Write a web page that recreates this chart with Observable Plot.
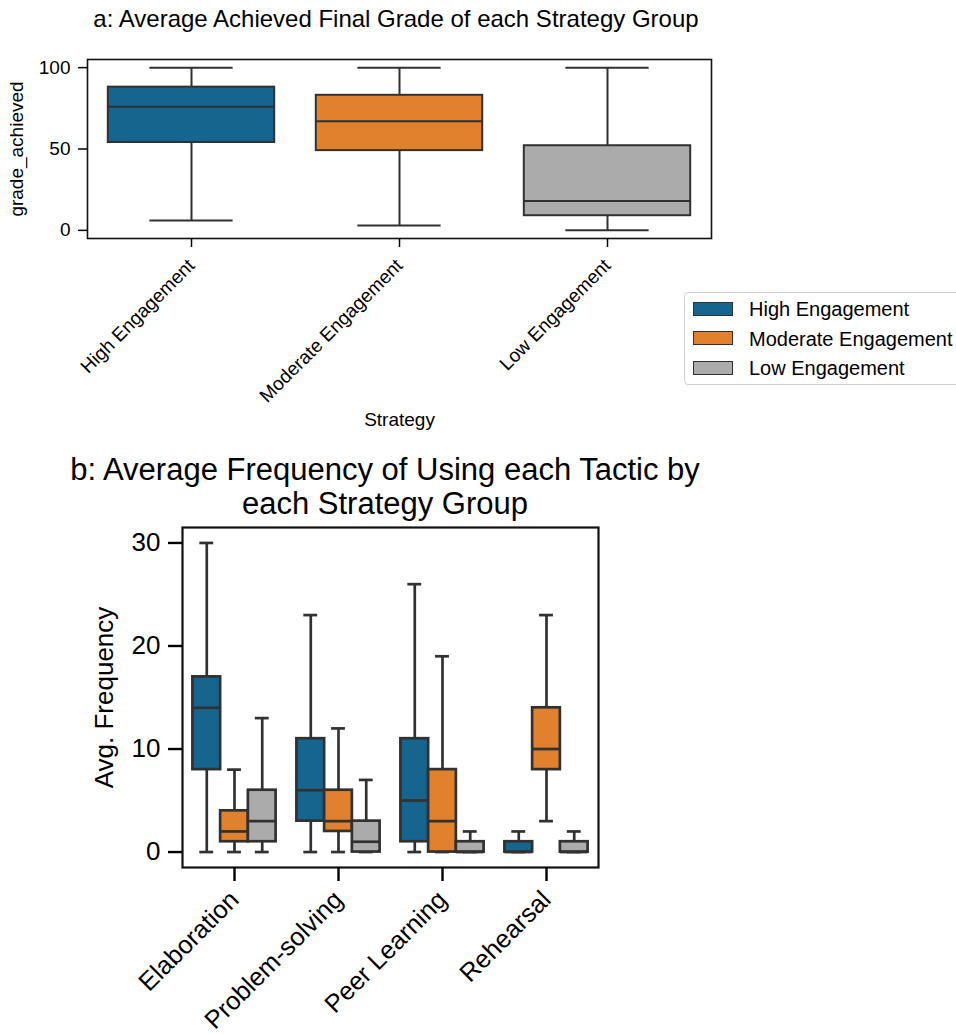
<!DOCTYPE html>
<html><head><meta charset="utf-8">
<script src="https://cdn.jsdelivr.net/npm/d3@7"></script>
<script src="https://cdn.jsdelivr.net/npm/@observablehq/plot@0.6"></script>
<style>
body{margin:0;background:#fff;font-family:"Liberation Sans",Arial,sans-serif;color:#000;}
#wrap{position:relative;width:956px;height:1034px;overflow:hidden;}
.abs{position:absolute;}
#legend{left:684px;top:292px;width:300px;height:93px;border:1px solid #cfcfcf;border-radius:4px;background:#fff;box-sizing:border-box;}
.li{position:absolute;left:8px;height:20px;font-size:20px;line-height:20px;white-space:nowrap;}
.sw{display:inline-block;width:40px;height:14px;border:1.5px solid #313131;box-sizing:border-box;vertical-align:middle;margin-right:16px;position:relative;top:-2px;}
</style></head><body><div id="wrap">
<div class="abs" style="left:0;width:792px;top:5px;text-align:center;font-size:24px;">a: Average Achieved Final Grade of each Strategy Group</div>
<div class="abs" id="chartA" style="left:0;top:40px;"></div>
<div class="abs" id="legend"></div>
<div class="abs" style="left:0;width:770px;top:453px;text-align:center;font-size:31px;line-height:34px;">b: Average Frequency of Using each Tactic by<br>each Strategy Group</div>
<div class="abs" id="chartB" style="left:0;top:520px;"></div>
</div>
<script>
// ---------- data: chart a ----------
const strategies = ["High Engagement", "Moderate Engagement", "Low Engagement"];
const strategyColors = ["#15658f", "#e1812d", "#ababab"];
const gradeMin = [6, 3, 0];
const gradeQ1 = [54, 49, 9];
const gradeMedian = [76, 67, 18];
const gradeQ3 = [88, 83, 52];
const gradeMax = [100, 100, 100];
const gradeTicks = [0, 50, 100];

// ---------- data: chart b ----------
const tactics = ["Elaboration", "Problem-solving", "Peer Learning", "Rehearsal"];
const highMin = [0, 0, 0, 0];
const highQ1 = [8, 3, 1, 0];
const highMedian = [14, 6, 5, 0];
const highQ3 = [17, 11, 11, 1];
const highMax = [30, 23, 26, 2];
const moderateMin = [0, 0, 0, 3];
const moderateQ1 = [1, 2, 0, 8];
const moderateMedian = [2, 3, 3, 10];
const moderateQ3 = [4, 6, 8, 14];
const moderateMax = [8, 12, 19, 23];
const lowMin = [0, 0, 0, 0];
const lowQ1 = [1, 0, 0, 0];
const lowMedian = [3, 1, 0, 0];
const lowQ3 = [6, 3, 1, 1];
const lowMax = [13, 7, 2, 2];
const freqTicks = [0, 10, 20, 30];

const FONT = '"Liberation Sans", Arial, sans-serif';
const edge = "#313131";

// ---------- chart a ----------
const rowsA = strategies.map((s, i) => ({
  strategy: s, min: gradeMin[i], q1: gradeQ1[i], median: gradeMedian[i], q3: gradeQ3[i], max: gradeMax[i]
}));
const widthA = 720, mlA = 87, mrA = 9;
const bandA = (widthA - mlA - mrA) / strategies.length;
const boxInsetA = bandA * 0.1, capInsetA = bandA * 0.3;
const swA = 2;
const chartA = Plot.plot({
  width: widthA, height: 420, marginLeft: mlA, marginRight: mrA, marginTop: 19, marginBottom: 222,
  style: {fontFamily: FONT, fontSize: "19px", color: "#000", background: "transparent", overflow: "visible"},
  x: {domain: strategies, padding: 0},
  y: {domain: [-5, 105]},
  color: {domain: strategies, range: strategyColors},
  marks: [
    Plot.ruleX(rowsA, {x: "strategy", y1: "min", y2: "q1", stroke: edge, strokeWidth: swA}),
    Plot.ruleX(rowsA, {x: "strategy", y1: "q3", y2: "max", stroke: edge, strokeWidth: swA}),
    Plot.tickY(rowsA, {x: "strategy", y: "min", stroke: edge, strokeWidth: swA, inset: capInsetA}),
    Plot.tickY(rowsA, {x: "strategy", y: "max", stroke: edge, strokeWidth: swA, inset: capInsetA}),
    Plot.barY(rowsA, {x: "strategy", y1: "q1", y2: "q3", fill: "strategy", stroke: edge, strokeWidth: swA, insetLeft: boxInsetA, insetRight: boxInsetA}),
    Plot.tickY(rowsA, {x: "strategy", y: "median", stroke: edge, strokeWidth: swA, inset: boxInsetA}),
    Plot.frame({stroke: "#111", strokeWidth: 1.6}),
    Plot.axisY({ticks: gradeTicks, tickSize: 9, tickPadding: 8, strokeWidth: 1.5, label: "grade_achieved", labelAnchor: "center", labelArrow: "none", labelOffset: 78}),
    Plot.axisX({tickRotate: -45, tickSize: 9, tickPadding: 15, strokeWidth: 1.5, label: "Strategy", labelAnchor: "center", labelArrow: "none", labelOffset: 187})
  ]
});
document.getElementById("chartA").appendChild(chartA);

// legend
const legend = document.getElementById("legend");
strategies.forEach((s, i) => {
  const row = document.createElement("div");
  row.className = "li";
  row.style.top = (6 + i * 29.5) + "px";
  const sw = document.createElement("span");
  sw.className = "sw";
  sw.style.background = strategyColors[i];
  row.appendChild(sw);
  row.appendChild(document.createTextNode(s));
  legend.appendChild(row);
});

// ---------- chart b ----------
const groupStats = [
  {min: highMin, q1: highQ1, median: highMedian, q3: highQ3, max: highMax},
  {min: moderateMin, q1: moderateQ1, median: moderateMedian, q3: moderateQ3, max: moderateMax},
  {min: lowMin, q1: lowQ1, median: lowMedian, q3: lowQ3, max: lowMax}
];
const rowsB = [];
strategies.forEach((g, gi) => tactics.forEach((t, ti) => rowsB.push({
  group: g, tactic: t,
  min: groupStats[gi].min[ti], q1: groupStats[gi].q1[ti], median: groupStats[gi].median[ti],
  q3: groupStats[gi].q3[ti], max: groupStats[gi].max[ti]
})));
const widthB = 620, mlB = 182, mrB = 22;
const bandB = (widthB - mlB - mrB) / tactics.length;
const boxW = bandB * 0.8 / strategies.length;
const boxInsetB = (bandB - boxW) / 2, capInsetB = (bandB - boxW * 0.5) / 2;
const swB = 2.7;
const boxMarks = strategies.flatMap((g, gi) => {
  const d = rowsB.filter(r => r.group === g);
  const dx = (gi - 1) * boxW;
  return [
    Plot.ruleX(d, {x: "tactic", y1: "min", y2: "q1", stroke: edge, strokeWidth: swB, dx}),
    Plot.ruleX(d, {x: "tactic", y1: "q3", y2: "max", stroke: edge, strokeWidth: swB, dx}),
    Plot.tickY(d, {x: "tactic", y: "min", stroke: edge, strokeWidth: swB, inset: capInsetB, dx}),
    Plot.tickY(d, {x: "tactic", y: "max", stroke: edge, strokeWidth: swB, inset: capInsetB, dx}),
    Plot.barY(d, {x: "tactic", y1: "q1", y2: "q3", fill: "group", stroke: edge, strokeWidth: swB, insetLeft: boxInsetB, insetRight: boxInsetB, dx}),
    Plot.tickY(d, {x: "tactic", y: "median", stroke: edge, strokeWidth: swB, inset: boxInsetB, dx})
  ];
});
const chartB = Plot.plot({
  width: widthB, height: 514, marginLeft: mlB, marginRight: mrB, marginTop: 7, marginBottom: 167,
  style: {fontFamily: FONT, fontSize: "25px", color: "#000", background: "transparent", overflow: "visible"},
  x: {domain: tactics, padding: 0},
  y: {domain: [-1.5, 31.5]},
  color: {domain: strategies, range: strategyColors},
  marks: [
    ...boxMarks,
    Plot.frame({stroke: "#111", strokeWidth: 2.2}),
    Plot.axisY({ticks: freqTicks, tickSize: 14, tickPadding: 8, strokeWidth: 2.4, label: "Avg. Frequency", labelAnchor: "center", labelArrow: "none", labelOffset: 88, fontSize: 26}),
    Plot.axisX({tickRotate: -45, tickSize: 14, tickPadding: 14, strokeWidth: 2.4, label: null, fontSize: 25.5})
  ]
});
document.getElementById("chartB").appendChild(chartB);
</script>
</body></html>
